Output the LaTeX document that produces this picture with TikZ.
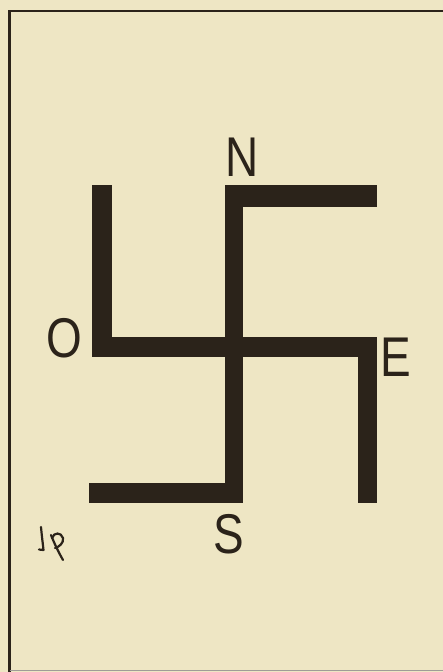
\documentclass[tikz,border=0pt]{standalone}
\usepackage{fontspec}
\setmainfont{Liberation Sans}
\begin{document}
\begin{tikzpicture}[x=1pt,y=-1pt,
  ink/.style={fill=inkc,draw=none},
  sig/.style={draw=inkc,line width=2.2pt,line cap=round,line join=round},
  compass/.style={text=inkc,inner sep=0pt,font=\fontsize{56}{56}\selectfont,xscale=0.82,transform shape}]
\definecolor{paper}{HTML}{EEE6C4}
\definecolor{inkc}{HTML}{2B231A}
\useasboundingbox (0,0) rectangle (443,672);
\fill[paper] (0,0) rectangle (443,672);
% frame
\draw[inkc,line width=2.6pt] (443,11) -- (9.5,11) -- (9.5,672);
\draw[inkc!45,line width=1.5pt] (9.5,670.5) -- (443,670.5);
% figure
\fill[ink] (227,185) rectangle (377,207);
\fill[ink] (225,185) rectangle (243,503);
\fill[ink] (92,337) rectangle (377,357);
\fill[ink] (92,185) rectangle (112,357);
\fill[ink] (358,337) rectangle (377,503);
\fill[ink] (89,483) rectangle (243,503);
% labels
\node[compass] (N) at (242.5,157) {N};
\node[compass] (O) at (64.5,338) {O};
\node[compass] (E) at (396,357.5) {E};
\node[compass] (S) at (229,534.5) {S};
% signature
\draw[sig] (41,527) .. controls (42,538) and (43,545) .. (43.5,550) -- (39,549.5);
\draw[sig] (51,535) .. controls (55,545) and (59,553) .. (63,560);
\draw[sig] (52,538) .. controls (54,532) and (61,532) .. (63,538)
  .. controls (64,543) and (59,547) .. (55,548);
\end{tikzpicture}
\end{document}
